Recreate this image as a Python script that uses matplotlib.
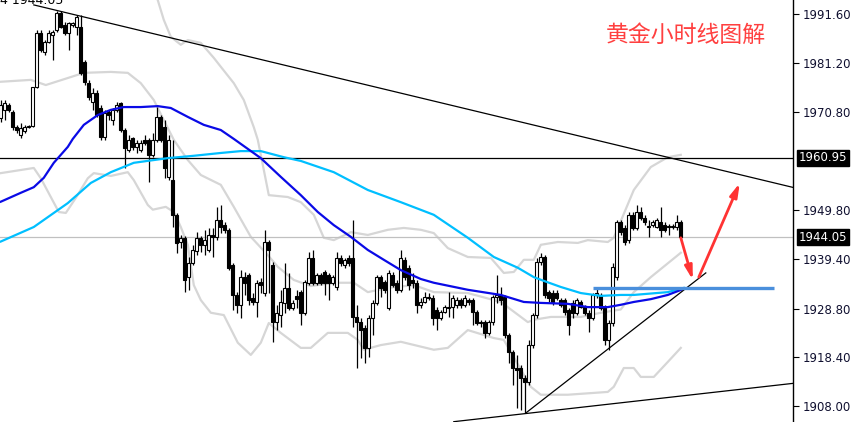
import matplotlib
matplotlib.use("Agg")
import matplotlib.pyplot as plt
import matplotlib.transforms as mtransforms
import numpy as np

# hourly gold candles
opens = [1969.5, 1971.2, 1972.2, 1970.7, 1967.5, 1965.8, 1966.7, 1967.5, 1967.8, 1976.1,
         1987.6, 1983.5, 1985.7, 1987.2, 1988.2, 1991.9, 1989.3, 1987.6, 1989.3, 1988.9,
         1988.9, 1981.4, 1976.9, 1972.9, 1974.8, 1971.6, 1965.4, 1970.7, 1969.0, 1971.2,
         1972.7, 1966.9, 1962.6, 1965.2, 1963.3, 1962.6, 1964.8, 1964.8, 1961.6, 1964.8,
         1969.7, 1967.5, 1956.9, 1956.2, 1948.8, 1943.0, 1943.9, 1935.5, 1938.5, 1941.1,
         1943.9, 1942.4, 1941.3, 1944.5, 1944.1, 1947.7, 1946.6, 1945.6, 1938.1, 1931.7,
         1929.6, 1935.5, 1936.0, 1931.0, 1930.2, 1934.5, 1932.1, 1943.0, 1938.1, 1925.9,
         1927.4, 1930.0, 1933.2, 1928.9, 1931.5, 1932.3, 1927.9, 1934.3, 1939.6, 1934.3,
         1936.0, 1936.6, 1936.0, 1934.3, 1933.4, 1939.6, 1938.1, 1939.6, 1939.6, 1927.0,
         1925.9, 1924.6, 1920.4, 1926.8, 1930.0, 1935.5, 1934.5, 1928.9, 1936.0, 1934.3,
         1932.8, 1939.2, 1937.5, 1934.9, 1934.3, 1929.6, 1930.2, 1931.3, 1931.0, 1928.5,
         1926.8, 1928.1, 1928.9, 1929.1, 1929.6, 1930.6, 1929.6, 1930.6, 1930.6, 1928.1,
         1925.9, 1925.9, 1923.6, 1925.9, 1931.3, 1931.7, 1931.3, 1923.2, 1919.5, 1916.1,
         1916.1, 1914.0, 1913.1, 1921.0, 1927.4, 1938.7, 1939.8, 1932.3, 1932.1, 1932.1,
         1930.6, 1930.6, 1928.5, 1930.0, 1927.9, 1930.2, 1929.1, 1927.9, 1926.8, 1931.7,
         1931.7, 1928.9, 1922.1, 1925.7, 1935.5, 1947.3, 1946.0, 1943.4, 1948.8, 1946.0,
         1949.4, 1948.1, 1946.2, 1946.6, 1946.2, 1947.3, 1946.6, 1946.4, 1946.2, 1946.2,
         1947.3]
highs = [1973.3, 1973.3, 1972.7, 1971.2, 1968.0, 1968.4, 1968.0, 1968.0, 1976.1, 1988.2,
         1988.2, 1986.1, 1988.2, 1988.2, 1992.3, 1992.3, 1990.0, 1990.0, 1990.0, 1991.4,
         1991.4, 1981.8, 1977.6, 1975.9, 1975.4, 1972.2, 1971.2, 1971.2, 1971.6, 1972.9,
         1972.9, 1967.3, 1965.8, 1965.4, 1964.8, 1964.8, 1965.8, 1965.2, 1966.3, 1971.8,
         1970.1, 1969.0, 1965.8, 1964.8, 1949.2, 1944.5, 1944.3, 1939.8, 1942.4, 1945.1,
         1944.3, 1945.6, 1946.0, 1946.0, 1950.5, 1950.9, 1947.3, 1946.0, 1938.5, 1932.3,
         1937.0, 1936.6, 1936.4, 1932.1, 1934.9, 1935.3, 1945.6, 1943.4, 1938.7, 1929.6,
         1932.8, 1938.5, 1936.4, 1930.6, 1932.8, 1932.8, 1934.9, 1940.9, 1941.3, 1936.4,
         1936.4, 1937.0, 1936.4, 1936.0, 1940.9, 1940.2, 1939.6, 1940.2, 1947.7, 1929.6,
         1926.8, 1925.3, 1927.4, 1930.6, 1936.0, 1936.0, 1934.9, 1937.0, 1936.6, 1934.9,
         1941.3, 1939.8, 1938.1, 1936.4, 1934.9, 1931.0, 1932.3, 1932.1, 1931.7, 1929.1,
         1928.5, 1929.6, 1932.3, 1931.7, 1931.3, 1931.0, 1931.7, 1931.0, 1931.0, 1928.5,
         1926.4, 1926.4, 1926.4, 1931.7, 1936.0, 1933.4, 1931.7, 1923.6, 1920.0, 1918.9,
         1916.7, 1914.6, 1922.1, 1927.9, 1939.6, 1940.7, 1940.2, 1932.8, 1932.8, 1932.8,
         1931.0, 1931.0, 1928.9, 1930.6, 1931.0, 1930.6, 1929.6, 1928.5, 1932.1, 1933.2,
         1932.1, 1929.6, 1926.4, 1938.5, 1947.7, 1947.7, 1946.6, 1949.4, 1949.4, 1950.9,
         1950.5, 1948.8, 1947.7, 1947.7, 1948.1, 1950.5, 1947.3, 1946.8, 1946.8, 1948.8,
         1947.7]
lows = [1968.6, 1969.0, 1970.7, 1966.9, 1966.3, 1965.2, 1966.3, 1967.3, 1967.5, 1975.9,
        1983.5, 1982.9, 1985.5, 1981.8, 1987.8, 1988.7, 1987.2, 1984.0, 1988.9, 1987.2,
        1978.6, 1976.5, 1973.3, 1971.2, 1969.7, 1964.8, 1964.8, 1969.0, 1968.0, 1970.7,
        1966.5, 1958.8, 1962.2, 1962.6, 1962.0, 1962.2, 1963.7, 1955.8, 1961.1, 1964.3,
        1964.3, 1956.6, 1956.2, 1946.2, 1940.7, 1941.7, 1932.3, 1932.8, 1938.1, 1940.2,
        1940.9, 1940.2, 1940.9, 1939.8, 1943.4, 1944.9, 1944.9, 1937.0, 1928.5, 1927.9,
        1926.8, 1931.7, 1929.6, 1929.6, 1927.0, 1932.1, 1931.5, 1932.1, 1921.7, 1924.2,
        1924.9, 1927.9, 1928.5, 1928.5, 1928.9, 1925.3, 1927.4, 1933.8, 1933.8, 1933.8,
        1933.8, 1931.7, 1930.6, 1933.8, 1932.8, 1937.9, 1937.5, 1937.9, 1924.9, 1916.1,
        1918.3, 1917.2, 1918.5, 1923.2, 1929.6, 1931.3, 1932.1, 1928.5, 1933.4, 1932.1,
        1932.3, 1934.9, 1932.8, 1933.2, 1927.9, 1928.9, 1930.0, 1930.6, 1925.3, 1924.2,
        1926.4, 1927.9, 1927.0, 1926.8, 1928.9, 1928.9, 1929.1, 1929.6, 1925.3, 1925.3,
        1924.9, 1922.5, 1923.2, 1925.3, 1930.0, 1929.6, 1922.5, 1917.2, 1912.5, 1907.6,
        1907.2, 1906.5, 1912.5, 1920.4, 1926.8, 1938.1, 1931.0, 1930.2, 1929.6, 1930.6,
        1929.1, 1927.4, 1923.2, 1926.8, 1927.4, 1928.9, 1927.4, 1923.8, 1926.4, 1931.0,
        1928.5, 1921.0, 1920.0, 1925.1, 1934.9, 1944.5, 1942.4, 1942.8, 1945.6, 1945.6,
        1947.7, 1946.6, 1944.1, 1946.2, 1946.0, 1944.1, 1945.1, 1944.5, 1945.8, 1945.6,
        1943.4]
closes = [1972.2, 1972.7, 1971.2, 1967.5, 1966.9, 1967.3, 1967.5, 1967.8, 1976.1, 1987.6,
          1984.0, 1985.7, 1987.6, 1987.8, 1991.9, 1988.9, 1987.6, 1989.7, 1989.7, 1991.0,
          1979.1, 1977.2, 1973.9, 1974.8, 1970.1, 1965.4, 1970.5, 1970.1, 1971.2, 1972.2,
          1966.9, 1963.1, 1964.8, 1963.3, 1964.1, 1964.1, 1964.1, 1961.6, 1964.8, 1969.7,
          1964.8, 1958.8, 1964.8, 1948.8, 1942.8, 1943.9, 1934.9, 1938.5, 1941.3, 1943.9,
          1942.4, 1943.4, 1944.5, 1944.1, 1947.7, 1946.2, 1945.6, 1937.5, 1931.7, 1929.6,
          1935.5, 1934.3, 1930.6, 1930.2, 1934.3, 1933.8, 1943.0, 1941.3, 1925.9, 1927.9,
          1930.2, 1933.2, 1928.9, 1930.0, 1930.8, 1927.9, 1934.5, 1939.6, 1934.3, 1936.0,
          1934.3, 1934.3, 1934.3, 1935.5, 1939.6, 1938.5, 1939.2, 1938.5, 1927.0, 1925.9,
          1924.2, 1920.4, 1926.8, 1930.0, 1935.5, 1933.2, 1932.8, 1936.4, 1933.8, 1932.8,
          1939.6, 1935.5, 1933.8, 1934.3, 1929.6, 1930.2, 1931.3, 1931.0, 1926.8, 1926.8,
          1928.1, 1929.1, 1929.1, 1931.0, 1930.6, 1929.6, 1931.0, 1930.2, 1928.1, 1925.7,
          1925.7, 1923.6, 1925.9, 1931.3, 1931.7, 1930.6, 1923.2, 1919.5, 1916.1, 1915.7,
          1914.0, 1913.1, 1921.0, 1927.4, 1938.7, 1939.8, 1931.7, 1931.0, 1930.2, 1931.0,
          1929.6, 1928.1, 1925.3, 1927.9, 1930.6, 1929.1, 1927.9, 1926.8, 1931.7, 1932.1,
          1928.9, 1922.1, 1925.7, 1937.7, 1947.3, 1945.1, 1943.0, 1948.8, 1946.0, 1949.4,
          1948.1, 1947.3, 1946.4, 1947.3, 1947.7, 1945.6, 1945.6, 1946.2, 1946.4, 1947.3,
          1944.05]

# moving averages and bollinger bands (bar index, price)
ma_fast_x = [0, 5, 8.25, 10.75, 13.25, 16.75, 18, 20.75, 24.25, 27.5, 30.75, 35, 39.25, 42.5,
             46.75, 50.75, 55, 58.25, 65, 70, 75, 79.25, 83.25, 87.5, 91.75, 95.75, 100, 105,
             108.25, 116.75, 125, 130.75, 135, 141.75, 146.75, 151.75, 155, 158.25, 162.5,
             166.75, 170.75]
ma_fast_y = [1951.6, 1953.5, 1954.7, 1956.7, 1959.9, 1963.3, 1965.0, 1968.0, 1970.1, 1971.2,
             1971.8, 1971.8, 1972.0, 1971.6, 1969.7, 1968.0, 1966.9, 1965.0, 1960.9, 1956.9,
             1953.0, 1949.4, 1946.6, 1944.1, 1941.3, 1939.2, 1937.0, 1935.1, 1934.3, 1932.8,
             1931.7, 1930.2, 1930.0, 1929.8, 1929.1, 1929.1, 1929.6, 1930.2, 1930.8, 1931.7,
             1933.0]
ma_slow_x = [0, 8.25, 16.75, 22.5, 27.5, 33.25, 41.75, 48.25, 55, 60, 65, 70.75, 75, 83.25,
             91.75, 100, 108.25, 116.75, 123.25, 129.25, 133.25, 135.75, 140, 145, 150, 155,
             158.25, 166.75, 170.75]
ma_slow_y = [1943.1, 1946.2, 1951.3, 1955.6, 1957.9, 1959.9, 1960.9, 1961.4, 1962.0, 1962.4,
             1962.4, 1961.1, 1960.3, 1957.9, 1954.1, 1951.5, 1948.8, 1943.9, 1939.8, 1937.5,
             1935.5, 1934.7, 1933.4, 1932.1, 1931.5, 1931.7, 1931.7, 1932.3, 1933.2]
bb_up_x = [38.75, 39.25, 40.75, 42.5, 45, 46.75, 50, 53.25, 55, 58.25, 60.75, 63.25, 64.25,
           65.75, 67, 71.75, 75, 78.25, 80.75, 83.25, 87.5, 91.75, 96.75, 100.75, 105, 108.25,
           111.75, 116.75, 122.5, 125.75, 128.25, 130.75, 133.25, 135, 139.25, 144.25, 146.75,
           151.75, 153.25, 158.25, 162.5, 166.75, 170]
bb_up_y = [1995.7, 1994.6, 1990.4, 1986.8, 1985.1, 1986.1, 1985.5, 1982.3, 1980.4, 1976.9,
           1973.3, 1967.5, 1964.8, 1958.4, 1953.0, 1952.6, 1951.5, 1948.8, 1943.9, 1943.4,
           1945.1, 1944.5, 1945.6, 1946.0, 1945.6, 1944.9, 1941.7, 1939.8, 1939.6, 1936.4,
           1936.6, 1939.2, 1939.2, 1942.4, 1943.0, 1942.8, 1943.4, 1943.0, 1943.9, 1954.1,
           1959.0, 1961.1, 1961.6]
bb_mid_x = [0, 7.5, 11.25, 16.75, 20.75, 27.5, 31.75, 35, 38.25, 40.75, 43.25, 46.75, 50, 55,
            58.25, 62.5, 66.75, 69.25, 73.25, 77.5, 83.25, 88.25, 91.75, 96.75, 103.25, 108.25,
            116.75, 125, 131.75, 133.25, 137.5, 145, 150, 155, 158.25, 162.5, 170]
bb_mid_y = [1977.2, 1977.6, 1976.5, 1978.0, 1979.1, 1979.3, 1979.1, 1976.9, 1973.3, 1969.0,
            1964.8, 1960.5, 1957.3, 1955.2, 1950.5, 1944.1, 1940.2, 1937.7, 1934.9, 1933.6,
            1934.3, 1934.3, 1932.3, 1933.2, 1933.8, 1932.3, 1932.1, 1930.2, 1925.9, 1926.4,
            1927.0, 1927.0, 1927.9, 1928.6, 1932.3, 1935.5, 1940.7]
bb_lo_x = [0, 8.25, 10, 12.5, 14.5, 16.25, 18.75, 21.75, 23.25, 27.5, 31.75, 33.25, 36.75, 38,
           41.25, 43.25, 45, 46.75, 48.25, 50, 52.5, 55.75, 59.25, 62.5, 65, 67, 70, 75, 77.5,
           81.75, 86.75, 89.25, 90.75, 95, 100, 108.25, 111.75, 116.75, 123.25, 125.75, 132.5,
           135, 141.75, 151.75, 153.25, 155.75, 158.25, 160, 163.25, 166.75, 170]
bb_lo_y = [1957.7, 1958.8, 1956.6, 1952.6, 1949.4, 1949.2, 1952.4, 1956.6, 1957.7, 1957.1,
           1957.9, 1956.2, 1950.9, 1949.9, 1950.5, 1949.4, 1946.2, 1942.4, 1933.8, 1930.6,
           1927.9, 1927.4, 1921.5, 1918.9, 1921.5, 1925.7, 1923.6, 1920.4, 1920.4, 1923.6,
           1923.6, 1922.1, 1920.0, 1921.0, 1921.7, 1920.0, 1920.4, 1924.2, 1922.5, 1922.1,
           1912.1, 1910.4, 1910.4, 1911.0, 1912.1, 1916.1, 1916.1, 1914.2, 1914.2, 1917.4,
           1920.4]

# drawn objects: (bar index, price)
resist_line = [(8.25, 1993.6), (198.3, 1954.6)]
rise_line = [(131.25, 1906.5), (176.25, 1936.4)]
floor_line = [(113.25, 1904.65), (198.3, 1912.85)]
support_level = 1933.2
support_span = (148, 193.25)
arrow_down = [(170, 1943.9), (173, 1934.9)]
arrow_up = [(174.5, 1935.5), (184.75, 1955.6)]
level_marked = 1960.95
last_price = 1944.05
yticks = [1991.60, 1981.20, 1970.80, 1949.80, 1939.40, 1928.80, 1918.40, 1908.00]

fig = plt.figure(figsize=(8.57, 4.22), dpi=100)
ax = fig.add_axes([0, 0, 793 / 857, 1])

o = np.array(opens)
h = np.array(highs)
l = np.array(lows)
c = np.array(closes)
idx = np.arange(len(c))
up = c >= o

ax.vlines(idx, l, h, color="black", lw=0.9, zorder=2)
body = np.maximum(np.abs(c - o), 0.2)
ax.bar(idx, body, bottom=np.minimum(o, c), width=0.7,
       color=np.where(up, "white", "black"), edgecolor="black", lw=0.8, zorder=2)

# indicators
for xs, ys in [(bb_up_x, bb_up_y), (bb_mid_x, bb_mid_y), (bb_lo_x, bb_lo_y)]:
    ax.plot(xs, ys, color="#d6d6d6", lw=1.6, zorder=1)
ax.plot(ma_slow_x, ma_slow_y, color="#00bfff", lw=1.6, zorder=3)
ax.plot(ma_fast_x, ma_fast_y, color="#0a0ae6", lw=1.6, zorder=3)

# horizontal levels
ax.axhline(level_marked, color="black", lw=0.9, zorder=1)
ax.axhline(last_price, color="#c0c0c0", lw=0.9, zorder=1)

# trend lines
for seg in [resist_line, rise_line, floor_line]:
    ax.plot([p[0] for p in seg], [p[1] for p in seg], color="black", lw=0.9, zorder=4)
ax.plot(support_span, [support_level] * 2, color="#4a8fdc", lw=2.4,
        solid_capstyle="butt", zorder=4)

for a in [arrow_down, arrow_up]:
    ax.annotate("", xy=a[1], xytext=a[0],
                arrowprops=dict(arrowstyle="-|>,head_length=0.8,head_width=0.22",
                                color="#ff3333", lw=2, shrinkA=0, shrinkB=0),
                zorder=5)

ax.text(0.764, 0.915, "黄金小时线图解", transform=ax.transAxes, color="#ff4040",
        fontsize=16.5, family=["Noto Sans CJK SC", "DejaVu Sans"], va="center", ha="left")
ax.text(0.0, 0.998, "4 1944.05", transform=ax.transAxes, fontsize=9, va="center",
        ha="left", color="black")

ax.set_xlim(-0.2, 198.05)
ax.set_ylim(1904.58, 1994.65)

for s in ["left", "top", "bottom"]:
    ax.spines[s].set_visible(False)
ax.spines["right"].set_linewidth(1)
ax.set_xticks([])
ax.yaxis.tick_right()
ax.set_yticks(yticks)
ax.set_yticklabels([f"{v:.2f}" for v in yticks])
ax.tick_params(axis="y", direction="out", length=4, width=0.8, pad=3,
               labelsize=8.5, labelcolor="#101030")

trans = mtransforms.blended_transform_factory(ax.transAxes, ax.transData)
for v in [level_marked, last_price]:
    ax.text(1.007, v, f"{v:.2f}", transform=trans, fontsize=8.5, color="white",
            va="center", ha="left",
            bbox=dict(boxstyle="square,pad=0.15", fc="black", ec="black"))

fig.savefig("out.png", dpi=100)
